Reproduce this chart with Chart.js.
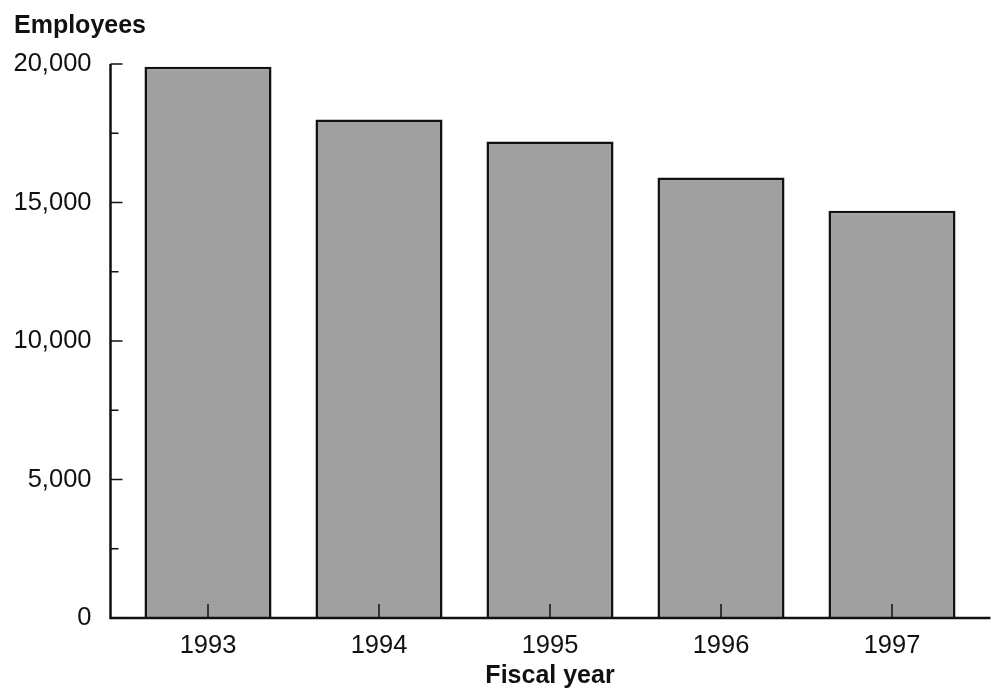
<!DOCTYPE html>
<html>
<head>
<meta charset="utf-8">
<script src="https://cdn.jsdelivr.net/npm/chart.js@4.4.0/dist/chart.umd.min.js"></script>
<style>
  html, body { margin: 0; padding: 0; background: #fff; }
  #wrap { width: 997px; height: 694px; }
</style>
</head>
<body>
<div id="wrap"><canvas id="employeesChart" width="997" height="694"></canvas></div>
<script>
const years = ['1993', '1994', '1995', '1996', '1997'];
const employees = [19900, 18000, 17200, 15900, 14700];
const yTicks = [0, 5000, 10000, 15000, 20000];

const ctx = document.getElementById('employeesChart').getContext('2d');
const FONT = "'Liberation Sans', Arial, Helvetica, sans-serif";

// axes are drawn by hand: y line sits 12px left of the plot, with inward ticks
const axesPlugin = {
  id: 'axesPlugin',
  afterDatasetsDraw(chart) {
    const { ctx, chartArea, scales } = chart;
    const y = scales.y, x = scales.x;
    const ax = chartArea.left - 12;
    const y0 = y.getPixelForValue(0);
    ctx.save();
    ctx.strokeStyle = '#111';
    ctx.lineWidth = 2.5;
    ctx.beginPath();
    ctx.moveTo(ax, y.getPixelForValue(20000));
    ctx.lineTo(ax, y0);
    ctx.lineTo(chartArea.right + 13, y0);
    ctx.stroke();
    ctx.lineWidth = 1.5;
    ctx.beginPath();
    for (let v = 0; v <= 20000; v += 2500) {
      const py = y.getPixelForValue(v);
      const len = v % 5000 === 0 ? 12 : 8;
      ctx.moveTo(ax, py);
      ctx.lineTo(ax + len, py);
    }
    years.forEach((_, i) => {
      const px = x.getPixelForValue(i);
      ctx.moveTo(px, y0);
      ctx.lineTo(px, y0 - 14);
    });
    ctx.stroke();
    ctx.restore();
  }
};

new Chart(ctx, {
  type: 'bar',
  data: {
    labels: years,
    datasets: [{
      data: employees,
      backgroundColor: '#a0a0a0',
      borderColor: '#111',
      borderWidth: 2.5,
      categoryPercentage: 1,
      barPercentage: 0.743
    }]
  },
  options: {
    responsive: false,
    animation: false,
    layout: { padding: { left: 14, right: 19.5, top: 0, bottom: 0 } },
    plugins: {
      legend: { display: false },
      tooltip: { enabled: false },
      title: {
        display: true,
        text: 'Employees',
        align: 'start',
        color: '#111',
        font: { family: FONT, size: 25, weight: 'bold' },
        padding: { top: 11, bottom: 23 }
      }
    },
    scales: {
      y: {
        min: 0,
        max: 20000,
        afterBuildTicks: (scale) => { scale.ticks = yTicks.map(v => ({ value: v })); },
        afterFit: (scale) => { scale.width = 108.5; },
        grid: { display: false, drawTicks: false },
        border: { display: false },
        ticks: {
          color: '#111',
          padding: 31,
          font: { family: FONT, size: 25.5 },
          callback: (v) => v.toLocaleString('en-US')
        }
      },
      x: {
        afterFit: (scale) => { scale.height = 76; },
        grid: { display: false, drawTicks: false },
        border: { display: false },
        ticks: {
          color: '#111',
          padding: 13,
          font: { family: FONT, size: 25.5 }
        },
        title: {
          display: true,
          text: 'Fiscal year',
          color: '#111',
          font: { family: FONT, size: 25, weight: 'bold' },
          padding: { top: 0, bottom: 3 }
        }
      }
    }
  },
  plugins: [axesPlugin]
});
</script>
</body>
</html>
